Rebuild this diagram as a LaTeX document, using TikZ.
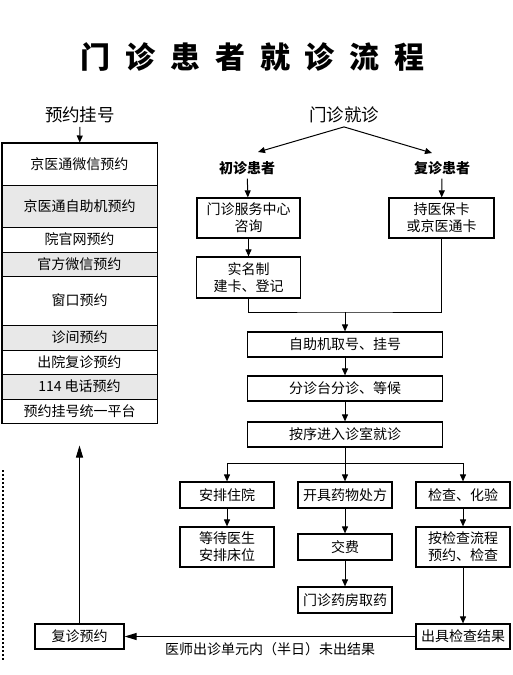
\documentclass[tikz,border=0pt]{standalone}
\usepackage{fontspec}
\setmainfont{Noto Sans CJK SC}
\usetikzlibrary{arrows.meta}

\begin{document}
\begin{tikzpicture}[x=1pt,y=-1pt,line width=1pt,
  >={Triangle[length=7pt,width=6pt]},
  box/.style={draw,line width=1.2pt,inner sep=0pt,align=center,font=\fontsize{14}{17}\selectfont},
  row/.style={draw,line width=1pt,inner sep=0pt,minimum width=155pt,font=\fontsize{14}{17}\selectfont},
  grayrow/.style={row,fill=black!9},
  head/.style={font=\fontsize{17.5}{20}\selectfont},
  sub/.style={font=\fontsize{14}{17}\selectfont\bfseries},
  back/.style={->,>={Triangle[length=12pt,width=7pt]}}]
\useasboundingbox (0,0) rectangle (513,675);

\node[font=\fontsize{30}{32}\selectfont\bfseries] (title) at (252.5,57)
  {门\hspace{15pt}诊\hspace{15pt}患\hspace{15pt}者\hspace{15pt}就\hspace{15pt}诊\hspace{15pt}流\hspace{15pt}程};

% 预约挂号
\node[head] (yuyue) at (80,115) {预约挂号};
\node[row,minimum height=42pt] (r1) at (79.5,164) {京医通微信预约};
\node[grayrow,minimum height=42pt] (r2) at (79.5,206) {京医通自助机预约};
\node[row,minimum height=25pt] (r3) at (79.5,239.5) {院官网预约};
\node[grayrow,minimum height=24pt] (r4) at (79.5,264) {官方微信预约};
\node[row,minimum height=49pt] (r5) at (79.5,300.5) {窗口预约};
\node[grayrow,minimum height=25pt] (r6) at (79.5,337.5) {诊间预约};
\node[row,minimum height=24pt] (r7) at (79.5,362) {出院复诊预约};
\node[grayrow,minimum height=25pt] (r8) at (79.5,386.5) {114 电话预约};
\node[row,minimum height=24pt] (r9) at (79.5,411) {预约挂号统一平台};
\draw[line width=1.4pt] (r1.north west) rectangle (r9.south east);
\path[draw,->] (yuyue) -- (r1);

% 门诊就诊
\node[head] (menzhen) at (344,115) {门诊就诊};
\node[sub] (chuzhen) at (247,168) {初诊患者};
\node[sub] (fuzhen) at (442,168) {复诊患者};
\coordinate (lt) at (258,152);
\coordinate (rt) at (432,153);
\path[draw,->] (menzhen.south) -- (lt);
\path[draw,->] (menzhen.south) -- (rt);

\node[box,minimum width=103pt,minimum height=40pt] (zixun) at (248.5,218) {门诊服务中心\\咨询};
\node[box,minimum width=105pt,minimum height=40pt] (chika) at (441.5,218) {持医保卡\\或京医通卡};
\node[box,minimum width=104pt,minimum height=41pt] (shiming) at (248.5,277.5) {实名制\\建卡、登记};
\path[draw,->] (chuzhen) -- (zixun);
\path[draw,->] (fuzhen) -- (chika);
\path[draw,->] (zixun) -- (shiming);

\node[box,minimum width=195pt,minimum height=25pt] (quhao) at (345,344.5) {自助机取号、挂号};
\node[box,minimum width=195pt,minimum height=25pt] (fenzhen) at (345,388.5) {分诊台分诊、等候};
\node[box,minimum width=195pt,minimum height=25pt] (jiuzhen) at (345,434.5) {按序进入诊室就诊};
\coordinate (mg) at (345,312);
\path[draw] (shiming.south) |- (mg) -| (chika.south);
\path[draw,->] (mg) -- (quhao);
\path[draw,->] (quhao) -- (fenzhen);
\path[draw,->] (fenzhen) -- (jiuzhen);

\node[box,minimum width=94pt,minimum height=26pt] (zhuyuan) at (227,495) {安排住院};
\node[box,minimum width=94pt,minimum height=26pt] (chufang) at (345,495) {开具药物处方};
\node[box,minimum width=94pt,minimum height=26pt] (jiancha) at (463,495) {检查、化验};
\coordinate (br) at (345,463);
\path[draw,->] (br) -| (zhuyuan);
\path[draw,->] (br) -| (jiancha);
\path[draw,->] (jiuzhen) -- (chufang);

\node[box,minimum width=94pt,minimum height=40pt] (chuangwei) at (227,547) {等待医生\\安排床位};
\node[box,minimum width=94pt,minimum height=26pt] (jiaofei) at (345,547) {交费};
\node[box,minimum width=94pt,minimum height=26pt] (quyao) at (345,600) {门诊药房取药};
\node[box,minimum width=94pt,minimum height=40pt] (jianyue) at (463,547) {按检查流程\\预约、检查};
\node[box,minimum width=94pt,minimum height=25pt] (jieguo) at (463,636.5) {出具检查结果};
\path[draw,->] (zhuyuan) -- (chuangwei);
\path[draw,->] (chufang) -- (jiaofei);
\path[draw,->] (jiaofei) -- (quyao);
\path[draw,->] (jiancha) -- (jianyue);
\path[draw,->] (jianyue) -- (jieguo);

% 复诊
\node[box,minimum width=89pt,minimum height=25pt] (fzyy) at (79.5,636.5) {复诊预约};
\path[draw,back] (jieguo) -- node[below=2pt,font=\fontsize{14}{17}\selectfont] {医师出诊单元内（半日）未出结果} (fzyy);
\path[draw,back,shorten >=22pt] (fzyy) -- (r9);

\draw[line width=1.5pt,dash pattern=on 1.5pt off 2.5pt] (3,470) -- (3,660);
\end{tikzpicture}
\end{document}
